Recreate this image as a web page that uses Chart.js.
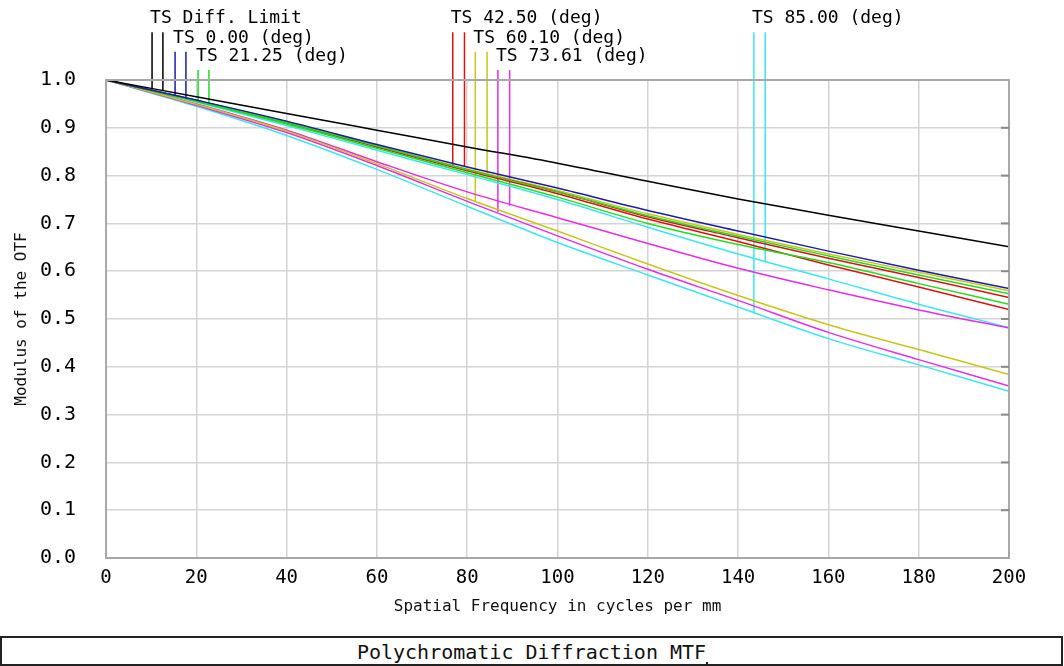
<!DOCTYPE html>
<html>
<head>
<meta charset="utf-8">
<script src="https://cdn.jsdelivr.net/npm/chart.js@4"></script>
<style>
  body { margin: 0; background: #fff; }
  #wrap { position: relative; width: 1064px; height: 666px; overflow: hidden; }
  #plot { position: absolute; left: 0; top: 0; }
  #titlebox {
    position: absolute; left: 0; top: 636px; width: 1059px; height: 26px;
    border: 2px solid #222; font: 20px "DejaVu Sans Mono", monospace;
    text-align: center; line-height: 28px; color: #111;
  }
  #cell { position: absolute; left: 706px; top: 662px; width: 2px; height: 6px; background: #222; }
</style>
</head>
<body>
<div id="wrap">
  <canvas id="plot" width="1064" height="636"></canvas>
  <div id="titlebox">Polychromatic Diffraction MTF</div>
  <div id="cell"></div>
</div>
<script>
// spatial frequency (cycles per mm) where the curves are read
const freq = [0, 20, 40, 60, 80, 100, 120, 140, 160, 180, 200];

// MTF values
const diffLimit = [1, 0.965, 0.930, 0.895, 0.860, 0.826, 0.788, 0.751, 0.717, 0.684, 0.651];
const field000 = [1, 0.958, 0.914, 0.865, 0.818, 0.774, 0.727, 0.684, 0.642, 0.602, 0.564];
const field2125T = [1, 0.955, 0.908, 0.857, 0.806, 0.755, 0.700, 0.656, 0.618, 0.574, 0.531];
const field2125S = [1, 0.957, 0.911, 0.862, 0.812, 0.766, 0.716, 0.673, 0.632, 0.592, 0.553];
const field4250T = [1, 0.957, 0.912, 0.861, 0.812, 0.766, 0.714, 0.670, 0.627, 0.587, 0.545];
const field4250S = [1, 0.956, 0.910, 0.860, 0.810, 0.762, 0.709, 0.662, 0.613, 0.567, 0.520];
const field6010T = [1, 0.949, 0.893, 0.825, 0.752, 0.684, 0.615, 0.549, 0.488, 0.436, 0.384];
const field6010S = [1, 0.957, 0.912, 0.863, 0.814, 0.769, 0.720, 0.677, 0.636, 0.598, 0.559];
const field7361T = [1, 0.947, 0.890, 0.821, 0.746, 0.674, 0.604, 0.539, 0.472, 0.415, 0.360];
const field7361S = [1, 0.950, 0.895, 0.829, 0.766, 0.712, 0.658, 0.606, 0.561, 0.519, 0.481];
const field8500T = [1, 0.945, 0.884, 0.813, 0.736, 0.660, 0.592, 0.525, 0.459, 0.404, 0.349];
const field8500S = [1, 0.954, 0.905, 0.853, 0.802, 0.750, 0.692, 0.636, 0.584, 0.531, 0.482];

// legend markers: two vertical ticks per field, from label row down to curve
const fieldLabels = ["TS Diff. Limit", "TS 0.00 (deg)", "TS 21.25 (deg)", "TS 42.50 (deg)",
  "TS 60.10 (deg)", "TS 73.61 (deg)", "TS 85.00 (deg)"];
const markerX = [10.2, 12.6, 15.3, 17.7, 20.4, 22.8, 76.8, 79.4, 81.8, 84.4, 86.8, 89.4, 143.5, 146.0];
const markerEnd = [0.982, 0.978, 0.968, 0.963, 0.956, 0.950, 0.822, 0.819, 0.746, 0.799, 0.724, 0.737, 0.512, 0.618];
const markerTop = [1.100, 1.100, 1.059, 1.059, 1.021, 1.021, 1.100, 1.100, 1.059, 1.059, 1.021, 1.021, 1.100, 1.100];

const colors = ["#000000", "#1c1caa", "#22dd22", "#dd1111", "#c6c61a", "#e52ee5", "#3ce6f0"];
const curves = [
  [diffLimit], [field000], [field2125T, field2125S], [field4250T, field4250S],
  [field6010T, field6010S], [field7361T, field7361S], [field8500T, field8500S]
];

const datasets = [];
curves.forEach((group, i) => {
  group.forEach((vals) => {
    datasets.push({
      data: freq.map((f, k) => ({ x: f, y: vals[k] })),
      borderColor: colors[i],
      borderWidth: 1.5,
      pointRadius: 0,
      cubicInterpolationMode: "monotone",
    });
  });
});
markerX.forEach((mx, j) => {
  datasets.push({
    data: [{ x: mx, y: markerTop[j] }, { x: mx, y: markerEnd[j] }],
    borderColor: colors[Math.floor(j / 2)],
    borderWidth: 1.5,
    pointRadius: 0,
    clip: false,
  });
});

const mono = "'DejaVu Sans Mono', monospace";

const decor = {
  id: "decor",
  afterDraw(chart) {
    const ctx = chart.ctx;
    const a = chart.chartArea;
    const xs = chart.scales.x, ys = chart.scales.y;
    ctx.save();
    ctx.strokeStyle = "#a8a8a8";
    ctx.lineWidth = 2;
    ctx.strokeRect(a.left, a.top, a.right - a.left, a.bottom - a.top);
    // small ticks on right edge
    ctx.strokeStyle = "#8a8a8a";
    for (let v = 1; v < 10; v++) {
      const y = ys.getPixelForValue(v / 10);
      ctx.beginPath();
      ctx.moveTo(a.right - 8, y);
      ctx.lineTo(a.right, y);
      ctx.stroke();
    }
    ctx.fillStyle = "#000";
    ctx.font = "18px " + mono;
    ctx.textBaseline = "alphabetic";
    fieldLabels.forEach((t, i) => {
      const x = xs.getPixelForValue(markerX[i * 2]) - 2;
      const y = ys.getPixelForValue(markerTop[i * 2]) - 9;
      ctx.fillText(t, x, y);
    });
    ctx.restore();
  },
};

new Chart(document.getElementById("plot"), {
  type: "line",
  data: { datasets: datasets },
  options: {
    responsive: false,
    animation: false,
    layout: { padding: { left: 0, top: 80, right: 55, bottom: 0 } },
    plugins: { legend: { display: false }, tooltip: { enabled: false } },
    scales: {
      x: {
        type: "linear",
        min: 0,
        max: 200,
        afterFit: (s) => { s.height = 78; },
        ticks: { stepSize: 20, padding: 9, color: "#000", font: { family: mono, size: 19 } },
        grid: { color: "#d4d4d4", lineWidth: 1.5, drawTicks: false },
        border: { display: false },
        title: {
          display: true,
          text: "Spatial Frequency in cycles per mm",
          color: "#111",
          font: { family: mono, size: 16 },
          padding: { top: 0, bottom: 20 },
        },
      },
      y: {
        min: 0,
        max: 1,
        afterFit: (s) => { s.width = 106; },
        ticks: {
          stepSize: 0.1,
          padding: 30,
          color: "#000",
          font: { family: mono, size: 20 },
          callback: (v) => Number(v).toFixed(1),
        },
        grid: { color: "#d4d4d4", lineWidth: 1.5, drawTicks: false },
        border: { display: false },
        title: {
          display: true,
          text: "Modulus of the OTF",
          color: "#111",
          font: { family: mono, size: 16 },
          padding: { top: 12, bottom: 0 },
        },
      },
    },
  },
  plugins: [decor],
});
</script>
</body>
</html>
